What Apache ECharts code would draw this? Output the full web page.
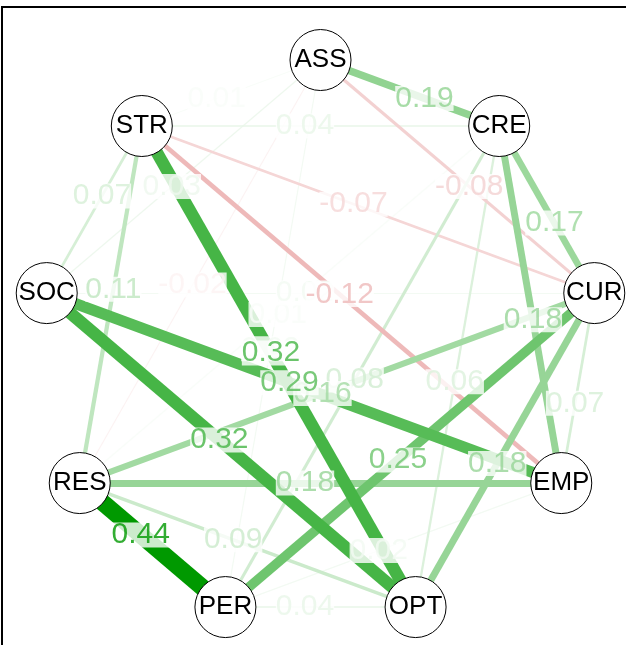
<!DOCTYPE html>
<html><head><meta charset="utf-8">
<script src="https://cdn.jsdelivr.net/npm/echarts@6/dist/echarts.min.js"></script>
<style>html,body{margin:0;padding:0;background:#fff}#c{width:626px;height:645px}</style>
</head><body><div id="c"></div>
<script>
// Nodes in data order (placed clockwise from the top on a circle)
const nodeNames = ['ASS','CRE','CUR','EMP','OPT','PER','RES','SOC','STR'];

// Edges (partial correlations)
const edgeFrom   = ['ASS','ASS','ASS','ASS','ASS','ASS','CRE','CRE','CRE','CRE','CRE','CRE','CUR','CUR','CUR','CUR','CUR','CUR','EMP','EMP','EMP','EMP','OPT','OPT','OPT','OPT','PER','RES','SOC'];
const edgeTo     = ['CRE','CUR','STR','SOC','RES','PER','CUR','EMP','OPT','PER','RES','STR','EMP','OPT','PER','RES','SOC','STR','PER','RES','SOC','STR','PER','RES','SOC','STR','RES','STR','STR'];
const edgeWeight = [0.19,-0.08,0.01,0.03,-0.02,0.02,0.17,0.18,0.06,0.08,0.01,0.04,0.07,0.18,0.25,0.16,0.02,-0.07,0.02,0.18,0.29,-0.12,0.04,0.09,0.32,0.32,0.44,0.11,0.07];

const POS_COLOR = [0,153,0], NEG_COLOR = [191,0,0];
const maxW = Math.max(...edgeWeight.map(Math.abs));
const ESIZE = 17;
const NODE_R = 31;          // node radius in px
const SX = 278, SY = 282;   // px per layout unit

function nodeXY(i){
  const a = i * 2 * Math.PI / nodeNames.length;
  return [Math.sin(a), Math.cos(a)];
}
function colorFor(w){
  const a = Math.abs(w) / maxW;
  const b = w >= 0 ? POS_COLOR : NEG_COLOR;
  const c = b.map(v => Math.round(v * a + 255 * (1 - a)));
  return 'rgb(' + c.join(',') + ')';
}
function widthFor(w){ return Math.max(1.2, Math.abs(w) / maxW * ESIZE); }
function labelPos(k){
  const i = nodeNames.indexOf(edgeFrom[k]), j = nodeNames.indexOf(edgeTo[k]);
  const A = nodeXY(Math.max(i,j)), B = nodeXY(Math.min(i,j));
  const dx = (B[0]-A[0]) * SX, dy = (B[1]-A[1]) * SY;
  const L = Math.hypot(dx, dy);
  const t = (L - NODE_R) / (2 * L);
  return [A[0] + t*(B[0]-A[0]), A[1] + t*(B[1]-A[1])];
}

const idx = edgeWeight.map((_, k) => k);
const lineOrder = idx.slice().sort((a, b) => Math.abs(edgeWeight[a]) - Math.abs(edgeWeight[b]));

const chart = echarts.init(document.getElementById('c'), null, {renderer: 'canvas'});
chart.setOption({
  animation: false,
  backgroundColor: '#fff',
  grid: {left: 2, top: 7, width: 700, height: 700, outerBoundsMode: 'none', containLabel: false,
         show: true, borderColor: '#000', borderWidth: 2, backgroundColor: '#fff'},
  xAxis: {type: 'value', min: -1.1457, max: 1.3723, show: false},
  yAxis: {type: 'value', min: -1.294, max: 1.188, show: false},
  series: [
    {
      type: 'graph', coordinateSystem: 'cartesian2d', z: 2, silent: true,
      symbol: 'circle', symbolSize: 61,
      itemStyle: {color: '#fff', borderColor: '#000', borderWidth: 1},
      label: {show: true, position: 'inside', color: '#000', fontSize: 26, fontFamily: 'Liberation Sans, Arial, sans-serif'},
      edgeSymbol: ['none', 'none'],
      lineStyle: {curveness: 0, opacity: 1},
      emphasis: {disabled: true},
      data: nodeNames.map((n, i) => ({name: n, value: nodeXY(i)})),
      links: lineOrder.map(k => ({
        source: edgeFrom[k], target: edgeTo[k],
        lineStyle: {width: widthFor(edgeWeight[k]), color: colorFor(edgeWeight[k]), opacity: 1}
      }))
    },
    {
      type: 'scatter', z: 3, silent: true, symbolSize: 1,
      itemStyle: {color: 'rgba(0,0,0,0)'},
      label: {show: true, position: 'inside', formatter: p => p.name, fontSize: 30,
              fontFamily: 'Liberation Sans, Arial, sans-serif', backgroundColor: '#fff', padding: [0, 0], lineHeight: 25},
      data: idx.map(k => ({
        name: edgeWeight[k].toFixed(2), value: labelPos(k),
        label: {color: colorFor(edgeWeight[k])}
      }))
    }
  ]
});
</script></body></html>
